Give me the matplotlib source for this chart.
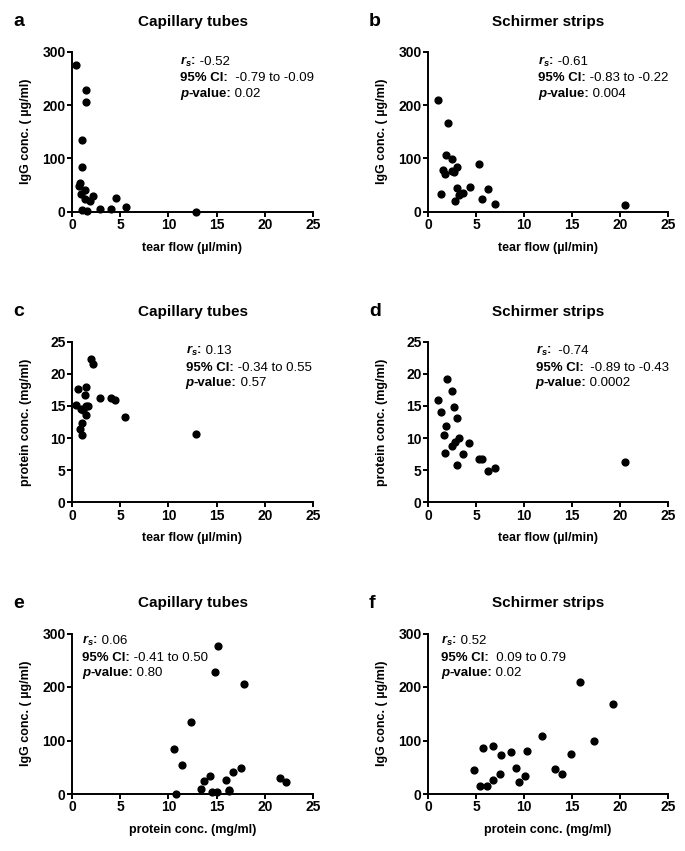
import matplotlib
matplotlib.use("Agg")
import matplotlib.pyplot as plt
from matplotlib.offsetbox import TextArea, HPacker, VPacker, AnchoredOffsetbox

plt.rcParams['font.family'] = ['Liberation Sans', 'DejaVu Sans']
plt.rcParams['mathtext.fontset'] = 'custom'
plt.rcParams['mathtext.rm'] = 'Liberation Sans'
plt.rcParams['mathtext.it'] = 'Liberation Sans:italic:bold'
plt.rcParams['mathtext.bf'] = 'Liberation Sans:bold'

# a: capillary tubes, tear flow vs IgG
a_flow = [0.45, 1.47, 1.48, 1.08, 1.08, 0.7, 0.87, 0.98, 1.33, 1.4, 1.85, 2.13,
          1.0, 1.6, 2.9, 4.06, 4.55, 5.56, 12.9]
a_igg = [276, 229, 206, 135, 84, 49, 53, 34, 41, 23, 21, 29, 3, 2, 6, 6, 26, 9, 0]

# b: Schirmer strips, tear flow vs IgG
b_flow = [1.04, 2.05, 1.91, 2.53, 1.6, 1.8, 2.5, 2.74, 3.06, 1.32, 3.06, 2.85,
          3.26, 3.6, 4.34, 5.35, 5.66, 6.25, 6.98, 20.5]
b_igg = [210, 167, 107, 98, 79, 71, 77, 74, 84, 34, 45, 20, 31, 35, 47, 89, 24,
         43, 14, 13]

# c: capillary tubes, tear flow vs protein
c_flow = [1.96, 2.17, 0.63, 1.5, 1.33, 0.45, 0.9, 1.15, 1.43, 1.68, 1.43, 1.05,
          0.87, 1.05, 2.87, 4.06, 4.5, 5.5, 12.9]
c_prot = [22.3, 21.6, 17.6, 17.9, 16.7, 15.1, 14.5, 14.3, 14.95, 15.0, 13.6,
          12.3, 11.4, 10.5, 16.2, 16.2, 15.9, 13.3, 10.7]

# d: Schirmer strips, tear flow vs protein
d_flow = [2.01, 2.53, 1.0, 2.7, 1.32, 3.02, 1.91, 1.63, 3.2, 2.85, 2.5, 4.3,
          1.8, 3.65, 3.06, 5.35, 5.66, 6.25, 6.98, 20.5]
d_prot = [19.2, 17.3, 15.9, 14.9, 14.0, 13.2, 11.9, 10.4, 10.0, 9.4, 8.7, 9.2,
          7.7, 7.5, 5.8, 6.7, 6.7, 4.9, 5.4, 6.2]

# e: capillary tubes, protein vs IgG
e_prot = [15.17, 14.86, 17.86, 12.38, 10.55, 11.45, 10.76, 13.34, 13.66, 14.34,
          14.55, 15.07, 15.93, 16.24, 16.3, 16.66, 17.55, 21.62, 22.2]
e_igg = [276, 228, 206, 135, 84, 54, 0, 9, 24, 34, 4, 3, 26, 7.5, 6, 42, 49, 30, 22]

# f: Schirmer strips, protein vs IgG
f_prot = [15.87, 19.27, 11.88, 17.26, 14.9, 5.69, 6.73, 7.64, 8.65, 10.35, 4.83,
          9.17, 7.53, 13.19, 14.0, 5.45, 6.15, 6.73, 9.44, 10.07]
f_igg = [210, 168, 108, 100, 75, 86, 90, 73, 79, 81, 45, 48.5, 37, 47, 37, 15.5,
         15, 26, 22, 33]

stats = {
    'a': ['-0.52', '-0.79 to -0.09', '0.02'],
    'b': ['-0.61', '-0.83 to -0.22', '0.004'],
    'c': ['0.13', '-0.34 to 0.55', '0.57'],
    'd': ['-0.74', '-0.89 to -0.43', '0.0002'],
    'e': ['0.06', '-0.41 to 0.50', '0.80'],
    'f': ['0.52', '0.09 to 0.79', '0.02'],
}
ci_gap = {'a': '  ', 'b': ' ', 'c': ' ', 'd': '  ', 'e': ' ', 'f': '  '}
rs_gap = {'a': ' ', 'b': ' ', 'c': ' ', 'd': '  ', 'e': ' ', 'f': ' '}

W, H = 685, 851
fig = plt.figure(figsize=(W / 100, H / 100), dpi=100)

# axes boxes in pixels: left, top, right, bottom
boxes = {
    'a': (72, 51.7, 313, 211.7), 'b': (428, 51.7, 668, 211.7),
    'c': (72, 341.7, 313, 502.3), 'd': (428, 341.7, 668, 502.3),
    'e': (72, 633.5, 313, 794), 'f': (428, 633.5, 668, 794),
}
panels = [
    ('a', a_flow, a_igg, 'Capillary tubes', 'tear flow (µl/min)', 'IgG conc. ( µg/ml)', 300, (11.2, 294)),
    ('b', b_flow, b_igg, 'Schirmer strips', 'tear flow (µl/min)', 'IgG conc. ( µg/ml)', 300, (11.45, 294)),
    ('c', c_flow, c_prot, 'Capillary tubes', 'tear flow (µl/min)', 'protein conc. (mg/ml)', 25, (11.8, 24.6)),
    ('d', d_flow, d_prot, 'Schirmer strips', 'tear flow (µl/min)', 'protein conc. (mg/ml)', 25, (11.2, 24.6)),
    ('e', e_prot, e_igg, 'Capillary tubes', 'protein conc. (mg/ml)', 'IgG conc. ( µg/ml)', 300, (1.07, 299)),
    ('f', f_prot, f_igg, 'Schirmer strips', 'protein conc. (mg/ml)', 'IgG conc. ( µg/ml)', 300, (1.39, 299)),
]

fs = 9.5
bold = dict(fontsize=fs, fontweight='bold')
reg = dict(fontsize=fs)
bolditalic = dict(fontsize=fs, fontweight='bold', style='italic')

for key, xs, ys, title, xlab, ylab, ymax, txt_pos in panels:
    l, t, r, b = boxes[key]
    ax = fig.add_axes([l / W, 1 - b / H, (r - l) / W, (b - t) / H])
    ax.plot(xs, ys, 'o', color='black', markersize=4.9, clip_on=False, zorder=3)
    ax.set_xlim(0, 25)
    ax.set_ylim(0, ymax)
    ax.set_xticks([0, 5, 10, 15, 20, 25])
    if ymax == 300:
        ax.set_yticks([0, 100, 200, 300])
    else:
        ax.set_yticks([0, 5, 10, 15, 20, 25])
    for s in ['top', 'right']:
        ax.spines[s].set_visible(False)
    for s in ['left', 'bottom']:
        ax.spines[s].set_linewidth(1.4)
    ax.tick_params(direction='out', length=3.5, width=1.4, pad=1, labelsize=10)
    for lbl in ax.get_xticklabels() + ax.get_yticklabels():
        lbl.set_fontweight('bold')
    ax.set_xlabel(xlab, fontsize=9, fontweight='bold')
    ax.xaxis.set_label_coords(0.5, -30 / (b - t))
    ax.set_ylabel(ylab, fontsize=9, fontweight='bold')
    ax.yaxis.set_label_coords(-40 / (r - l), 0.5)

    fig.text((l + r) / 2 / W, 1 - (t - 30) / H, title, ha='center', va='center',
             fontsize=11, fontweight='bold')
    fig.text((l - 59) / W, 1 - (t - 30) / H, key, ha='left', va='center',
             fontsize=14, fontweight='bold')

    rs, ci, pv = stats[key]
    line1 = HPacker(children=[TextArea('$r_s$:', textprops=bold),
                              TextArea(rs_gap[key] + rs, textprops=reg)],
                    align='baseline', pad=0, sep=0)
    line2 = HPacker(children=[TextArea('95% CI:', textprops=bold),
                              TextArea(ci_gap[key] + ci, textprops=reg)],
                    align='baseline', pad=0, sep=0)
    line3 = HPacker(children=[TextArea('p', textprops=bolditalic),
                              TextArea('-value:', textprops=bold),
                              TextArea(' ' + pv, textprops=reg)],
                    align='baseline', pad=0, sep=0)
    block = VPacker(children=[line1, line2, line3], align='left', pad=0, sep=2.5)
    anchored = AnchoredOffsetbox(loc='upper left', child=block, pad=0, borderpad=0,
                                 frameon=False, bbox_to_anchor=txt_pos,
                                 bbox_transform=ax.transData)
    ax.add_artist(anchored)

fig.savefig('out.png', dpi=100)
